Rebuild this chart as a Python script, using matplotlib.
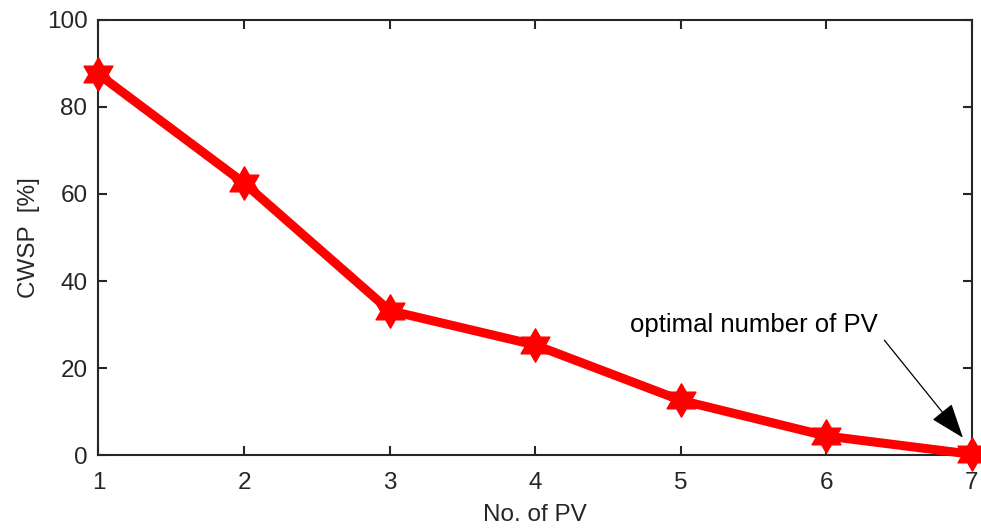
import numpy as np
import matplotlib.pyplot as plt
from matplotlib.path import Path

# Data
n_pv = [1, 2, 3, 4, 5, 6, 7]
cwsp = [87.5, 62.5, 33.2, 25.3, 12.6, 4.4, 0.2]

plt.rcParams['font.family'] = ['Liberation Sans', 'DejaVu Sans']
dark = '#262626'

# six-pointed star (hexagram) marker like MATLAB's 'h'
ang = np.deg2rad(90 + np.arange(12) * 30)
rad = np.where(np.arange(12) % 2 == 0, 1.0, 1 / np.sqrt(3))
verts = np.column_stack([rad * np.cos(ang), rad * np.sin(ang)])
verts = np.vstack([verts, verts[0]])
hexagram = Path(verts, closed=True)

fig = plt.figure(figsize=(9.81, 5.28), dpi=100)
ax = fig.add_axes([0.1004, 0.138, 0.8901, 0.8245])

ax.plot(n_pv, cwsp, color='red', linewidth=6.5, marker=hexagram,
        markersize=24, markerfacecolor='red', markeredgecolor='red',
        clip_on=False, zorder=3)

ax.set_xlim(1, 7)
ax.set_ylim(0, 100)
ax.set_xticks(n_pv)
ax.set_yticks([0, 20, 40, 60, 80, 100])

ax.tick_params(direction='in', length=6.5, width=1.5, colors=dark,
               labelsize=17.5, top=True, right=True)
ax.tick_params(axis='x', pad=12)
ax.tick_params(axis='y', pad=8)
for s in ax.spines.values():
    s.set_linewidth(1.5)
    s.set_color(dark)

ax.set_xlabel('No. of PV', fontsize=17.5, color=dark, labelpad=7)
ax.set_ylabel('CWSP  [%]', fontsize=17.5, color=dark, labelpad=5)

# annotation
ax.text(4.65, 30.0, 'optimal number of PV', fontsize=18.5, color='black',
        va='center', ha='left')
ax.annotate('', xy=(6.94, 4.0), xytext=(6.40, 26.4),
            arrowprops=dict(arrowstyle='-|>,head_length=2.2,head_width=0.8',
                            color='black', lw=0.9, shrinkA=0, shrinkB=0))

fig.savefig('out.png', dpi=100)
